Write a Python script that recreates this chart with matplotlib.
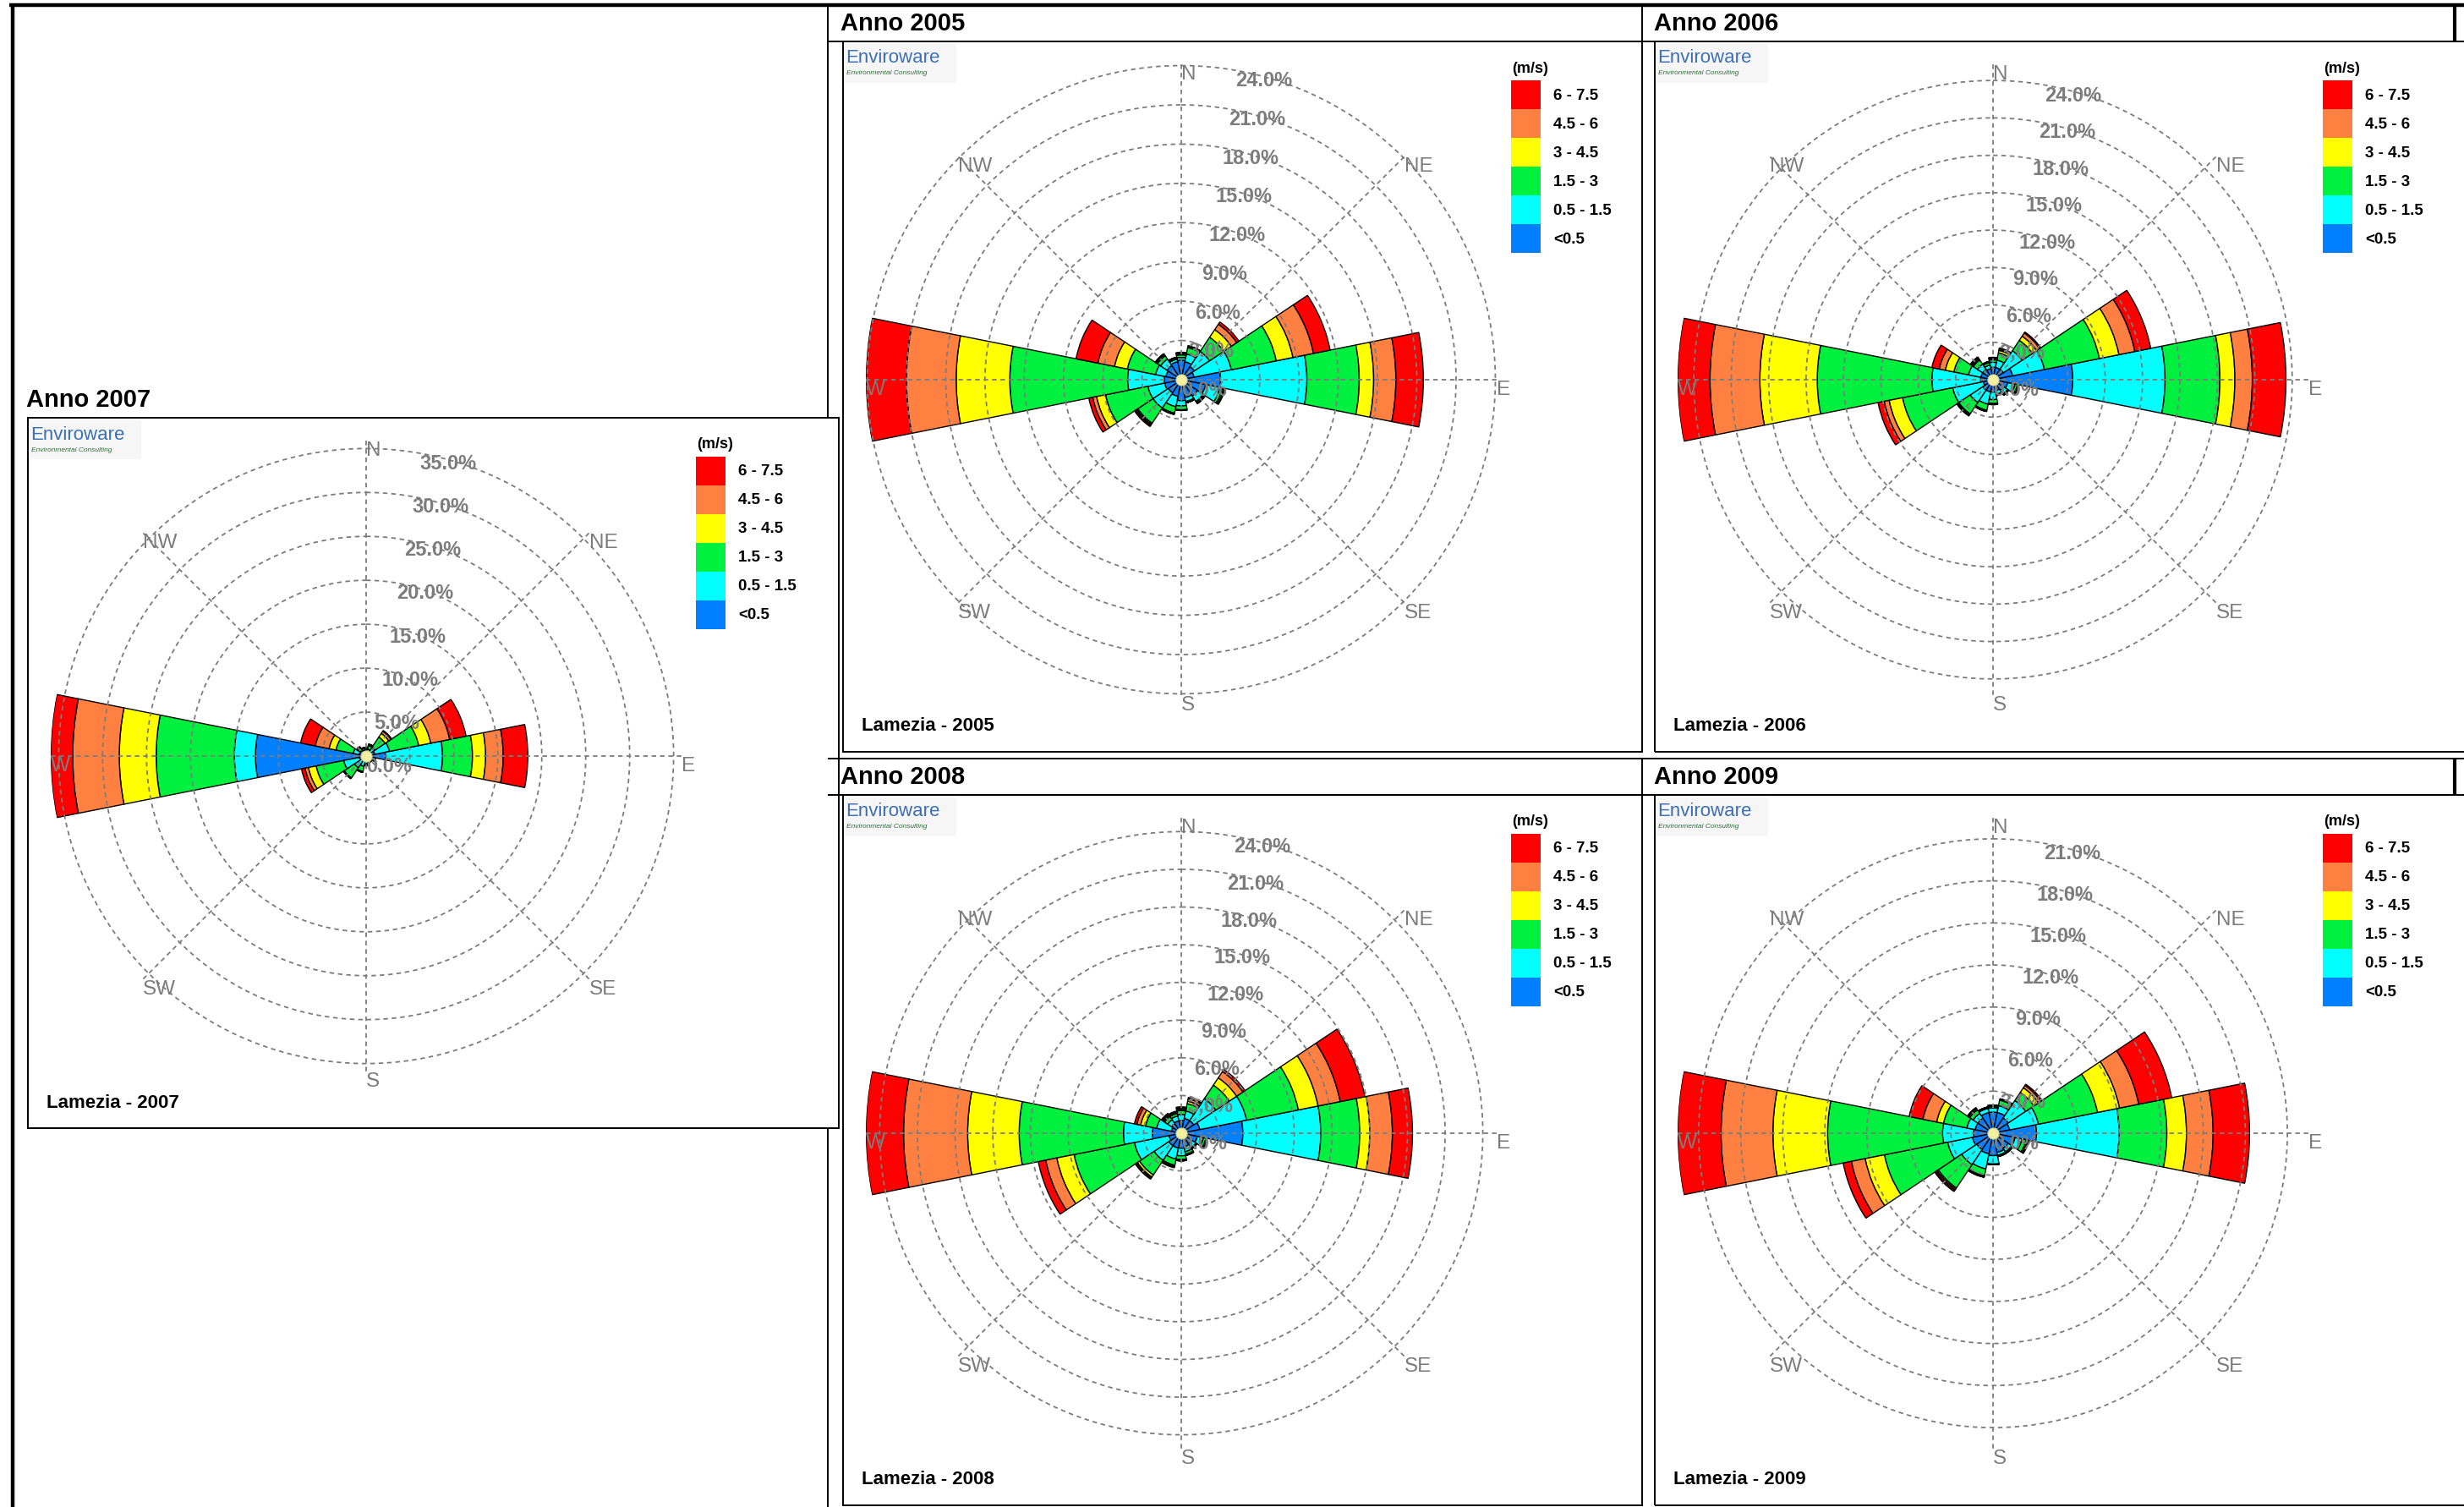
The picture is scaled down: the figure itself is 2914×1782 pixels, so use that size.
import numpy as np
import matplotlib.pyplot as plt
from matplotlib.patches import Rectangle
from matplotlib.lines import Line2D
from matplotlib import font_manager

# Dimensioni immagine (pixel)
W_PX, H_PX = 2914, 1783

directions = ['N', 'NNE', 'NE', 'ENE', 'E', 'ESE', 'SE', 'SSE',
              'S', 'SSW', 'SW', 'WSW', 'W', 'WNW', 'NW', 'NNW']
speed_classes = ['<0.5', '0.5 - 1.5', '1.5 - 3', '3 - 4.5', '4.5 - 6', '6 - 7.5']
class_colors = ['#0080FF', '#00FFFF', '#00F040', '#FFFF00', '#FF8040', '#FF0000']
compass = ['N', 'NE', 'E', 'SE', 'S', 'SW', 'W', 'NW']

years = [2005, 2006, 2007, 2008, 2009]

# Frequenze cumulate (%) per direzione (righe N..NNW), classi <0.5 .. 6-7.5
rose_2005 = [
    [1.5, 1.7, 1.9, 2.0, 2.05, 2.1],
    [1.4, 2.0, 2.5, 2.6, 2.62, 2.65],
    [1.2, 2.6, 3.9, 4.6, 5.1, 5.3],
    [1.0, 3.9, 7.4, 8.7, 10.3, 11.6],
    [3.0, 9.6, 13.6, 14.7, 16.4, 18.5],
    [1.9, 3.0, 3.2, 3.3, 3.35, 3.4],
    [1.5, 2.0, 2.1, 2.15, 2.2, 2.2],
    [1.4, 1.7, 1.8, 1.8, 1.8, 1.8],
    [1.6, 2.0, 2.3, 2.35, 2.35, 2.35],
    [1.3, 2.1, 2.6, 2.65, 2.7, 2.7],
    [1.2, 2.6, 4.0, 4.1, 4.2, 4.3],
    [1.3, 2.6, 5.9, 6.6, 6.9, 7.2],
    [1.3, 4.1, 13.1, 17.2, 21.0, 24.1],
    [1.2, 2.0, 4.2, 5.2, 6.5, 8.2],
    [1.3, 1.9, 2.2, 2.3, 2.35, 2.4],
    [1.4, 1.6, 1.7, 1.75, 1.75, 1.75],
]
rose_2006 = [
    [1.0, 1.4, 1.6, 1.7, 1.75, 1.8],
    [1.0, 1.6, 2.2, 2.4, 2.5, 2.6],
    [1.0, 2.8, 3.8, 4.2, 4.5, 4.6],
    [1.6, 4.2, 8.7, 10.3, 11.6, 12.9],
    [6.4, 13.8, 18.2, 19.4, 20.8, 23.5],
    [1.2, 1.8, 2.0, 2.05, 2.1, 2.1],
    [1.0, 1.4, 1.5, 1.5, 1.5, 1.5],
    [0.9, 1.2, 1.3, 1.3, 1.3, 1.3],
    [1.0, 1.6, 1.9, 1.95, 2.0, 2.0],
    [1.0, 2.0, 2.5, 2.55, 2.6, 2.6],
    [1.0, 2.2, 3.3, 3.4, 3.45, 3.5],
    [0.8, 3.3, 7.4, 8.5, 8.9, 9.4],
    [1.0, 4.9, 14.1, 18.7, 22.7, 25.3],
    [1.0, 2.0, 3.2, 3.9, 4.4, 5.0],
    [1.0, 1.5, 1.9, 2.0, 2.1, 2.2],
    [0.9, 1.2, 1.4, 1.45, 1.5, 1.5],
]
rose_2007 = [
    [0.5, 0.7, 0.9, 1.0, 1.0, 1.0],
    [0.5, 0.8, 1.2, 1.3, 1.35, 1.4],
    [0.6, 1.2, 2.6, 3.1, 3.4, 3.5],
    [1.0, 2.7, 6.1, 7.5, 9.7, 11.6],
    [2.2, 8.7, 12.1, 13.6, 15.6, 18.4],
    [0.6, 1.0, 1.1, 1.1, 1.1, 1.1],
    [0.5, 0.7, 0.8, 0.8, 0.8, 0.8],
    [0.5, 0.7, 0.8, 0.8, 0.8, 0.8],
    [0.6, 0.9, 1.1, 1.1, 1.1, 1.1],
    [0.6, 1.2, 1.8, 1.85, 1.9, 1.9],
    [0.6, 1.6, 3.0, 3.05, 3.1, 3.1],
    [0.8, 2.6, 5.8, 6.7, 7.1, 7.5],
    [12.6, 15.0, 23.9, 28.1, 33.4, 35.9],
    [0.8, 1.5, 3.5, 4.3, 5.9, 7.6],
    [0.5, 0.8, 1.1, 1.2, 1.25, 1.3],
    [0.5, 0.7, 0.9, 0.95, 1.0, 1.0],
]
rose_2008 = [
    [1.0, 1.5, 1.8, 1.9, 2.0, 2.1],
    [1.2, 1.8, 2.4, 2.6, 2.8, 2.9],
    [1.2, 3.3, 4.6, 5.3, 5.9, 6.1],
    [1.5, 5.3, 9.5, 11.1, 12.9, 14.9],
    [4.9, 11.1, 14.2, 15.0, 16.8, 18.4],
    [1.3, 1.8, 2.0, 2.05, 2.1, 2.1],
    [1.0, 1.4, 1.5, 1.5, 1.5, 1.5],
    [1.1, 1.5, 1.7, 1.75, 1.8, 1.8],
    [1.2, 1.8, 2.1, 2.15, 2.2, 2.2],
    [1.2, 2.1, 2.6, 2.7, 2.75, 2.8],
    [1.2, 2.6, 4.0, 4.2, 4.3, 4.4],
    [1.0, 3.8, 8.7, 10.1, 11.0, 11.6],
    [2.3, 4.6, 12.9, 17.0, 22.1, 25.1],
    [0.8, 2.0, 2.9, 3.3, 3.6, 3.8],
    [0.9, 1.3, 1.6, 1.7, 1.8, 1.9],
    [1.0, 1.4, 1.6, 1.7, 1.75, 1.8],
]
rose_2009 = [
    [1.5, 1.8, 1.9, 1.95, 2.0, 2.0],
    [1.5, 2.0, 2.4, 2.45, 2.5, 2.5],
    [1.3, 2.8, 3.5, 3.9, 4.1, 4.2],
    [1.2, 3.3, 7.6, 9.2, 10.6, 13.0],
    [3.1, 9.0, 12.4, 13.8, 15.7, 18.3],
    [1.6, 2.1, 2.4, 2.5, 2.55, 2.6],
    [1.3, 1.6, 1.7, 1.7, 1.7, 1.7],
    [1.4, 1.6, 1.7, 1.7, 1.7, 1.7],
    [1.6, 2.2, 2.25, 2.25, 2.25, 2.25],
    [1.5, 2.6, 3.1, 3.15, 3.2, 3.2],
    [1.4, 2.7, 4.7, 4.8, 4.9, 5.0],
    [1.5, 3.3, 7.9, 9.3, 10.3, 10.9],
    [1.4, 3.6, 11.8, 15.7, 19.4, 22.5],
    [1.3, 1.9, 3.6, 4.1, 5.1, 6.1],
    [1.3, 1.7, 2.0, 2.1, 2.15, 2.2],
    [1.5, 1.8, 1.85, 1.9, 1.9, 1.9],
]
roses = {2005: rose_2005, 2006: rose_2006, 2007: rose_2007,
         2008: rose_2008, 2009: rose_2009}
ring_step = {2005: 3, 2006: 3, 2007: 5, 2008: 3, 2009: 3}

# angolo in alto a sinistra di ogni riquadro (pixel) e larghezza
panel_xy = {2005: (997, 50), 2006: (1957, 50), 2007: (33, 495),
            2008: (997, 941), 2009: (1957, 941)}
panel_wd = {2005: 945, 2006: 945, 2007: 959, 2008: 945, 2009: 945}
panel_h = 840
R_PX = 373

names = {f.name for f in font_manager.fontManager.ttflist}
narrow = 'Liberation Sans Narrow' if 'Liberation Sans Narrow' in names else 'Liberation Sans'
plt.rcParams['font.family'] = ['Liberation Sans', 'DejaVu Sans']

GRAY = '#7c7c7c'
DASH = (0, (3, 2.5))


def fx(x):
    return x / W_PX


def fy(y):
    return 1 - y / H_PX


fig = plt.figure(figsize=(W_PX / 100, H_PX / 100), dpi=100)
fig.patch.set_facecolor('white')


def line(x0, y0, x1, y1, lw=1.4, color='black'):
    fig.add_artist(Line2D([fx(x0), fx(x1)], [fy(y0), fy(y1)],
                          transform=fig.transFigure, color=color, lw=lw,
                          solid_capstyle='butt'))


def rect(x0, y0, w, h, fc='none', ec='black', lw=1.4, z=1):
    fig.add_artist(Rectangle((fx(x0), fy(y0 + h)), w / W_PX, h / H_PX,
                             transform=fig.transFigure, facecolor=fc,
                             edgecolor=ec, lw=lw, zorder=z))


# Tabella esterna
line(11, 7, W_PX, 7, lw=3.2)
line(15, 5, 15, H_PX, lw=3.2)
line(979, 7, 979, 495, lw=1.4)
line(979, 1335, 979, H_PX, lw=1.4)
line(979, 50, W_PX, 50, lw=1.4)
line(1942, 7, 1942, 50, lw=1.4)
line(2903, 7, 2903, 50, lw=3.0)
line(979, 898, W_PX, 898, lw=1.4)
line(979, 941, W_PX, 941, lw=1.4)
line(1942, 898, 1942, 941, lw=1.4)
line(2903, 898, 2903, 941, lw=3.0)

header_xy = {2005: (994, 28), 2006: (1956, 28), 2007: (31, 473),
             2008: (994, 919), 2009: (1956, 919)}
for yr in years:
    hx, hy = header_xy[yr]
    fig.text(fx(hx), fy(hy), f'Anno {yr}', fontsize=21, fontweight='bold',
             ha='left', va='center')

theta = np.deg2rad(np.arange(16) * 22.5)
width = np.deg2rad(22.5)

for yr in years:
    x0, y0 = panel_xy[yr]
    # riquadro del pannello
    if yr in (2006, 2009):
        line(x0, y0, W_PX, y0)
        line(x0, y0, x0, y0 + panel_h)
        line(x0, y0 + panel_h, W_PX, y0 + panel_h)
    else:
        rect(x0, y0, panel_wd[yr], panel_h, fc='none')

    cx, cy = x0 + 400, y0 + 400
    ax = fig.add_axes([fx(cx - R_PX), fy(cy + R_PX),
                       2 * R_PX / W_PX, 2 * R_PX / H_PX], projection='polar')
    ax.set_theta_zero_location('N')
    ax.set_theta_direction(-1)
    ax.set_axis_off()

    cum = np.array(roses[yr])
    rmax = cum[:, -1].max()
    ax.set_ylim(0, rmax)

    bottom = np.zeros(16)
    for k in range(6):
        ax.bar(theta, cum[:, k] - bottom, width=width, bottom=bottom,
               color=class_colors[k], edgecolor='black', linewidth=1.0,
               zorder=2)
        bottom = cum[:, k]

    # griglia tratteggiata
    step = ring_step[yr]
    rings = np.arange(step, rmax + 0.01, step)
    tt = np.linspace(0, 2 * np.pi, 400)
    for r in rings:
        ax.plot(tt, np.full_like(tt, r), color=GRAY, lw=1.3, ls=DASH, zorder=3)
    for a in range(0, 360, 45):
        ax.plot([np.deg2rad(a)] * 2, [0, rmax], color=GRAY, lw=1.3, ls=DASH,
                zorder=3)

    for r in np.concatenate([[0], rings]):
        ax.text(np.deg2rad(10), r, f'{r:.1f}%', color=GRAY, fontsize=17,
                fontweight='bold', ha='left', va='top', zorder=4)
    for i, lab in enumerate(compass):
        ax.text(np.deg2rad(i * 45), rmax, lab, color=GRAY, fontsize=17.5,
                ha='left', va='top', zorder=4, clip_on=False)

    ax.plot([0], [0], 'o', ms=9.5, mfc='#F3F0A0', mec='#CFCFA0', mew=0.8,
            zorder=5)

    # legenda
    fig.text(fx(cx + 391), fy(cy - 369), '(m/s)', fontsize=13,
             fontweight='bold', ha='left', va='center')
    for j in range(6):
        k = 5 - j
        by = cy - 354 + j * 34
        rect(cx + 390, by, 35, 34, fc=class_colors[k], ec='none', lw=0)
        fig.text(fx(cx + 440), fy(by + 17), speed_classes[k], fontsize=13.5,
                 fontweight='bold', ha='left', va='center')

    # logo
    rect(x0 + 2, y0 + 3, 132, 46, fc='#F6F6F6', ec='none', lw=0, z=-1)
    fig.text(fx(x0 + 3), fy(y0 + 19), 'Enviroware', fontsize=16,
             color='#3C6FB4', ha='left', va='center')
    fig.text(fx(x0 + 4), fy(y0 + 37), 'Environmental Consulting', fontsize=6,
             style='italic', color='#2F6A3A', ha='left', va='center')

    lam_size = 18 if narrow != 'Liberation Sans' else 16
    fig.text(fx(cx - 378), fy(cy + 409), f'Lamezia - {yr}', fontsize=lam_size,
             fontweight='bold', family=[narrow, 'DejaVu Sans'],
             ha='left', va='center')

fig.savefig('out.png', dpi=100, facecolor='white')
